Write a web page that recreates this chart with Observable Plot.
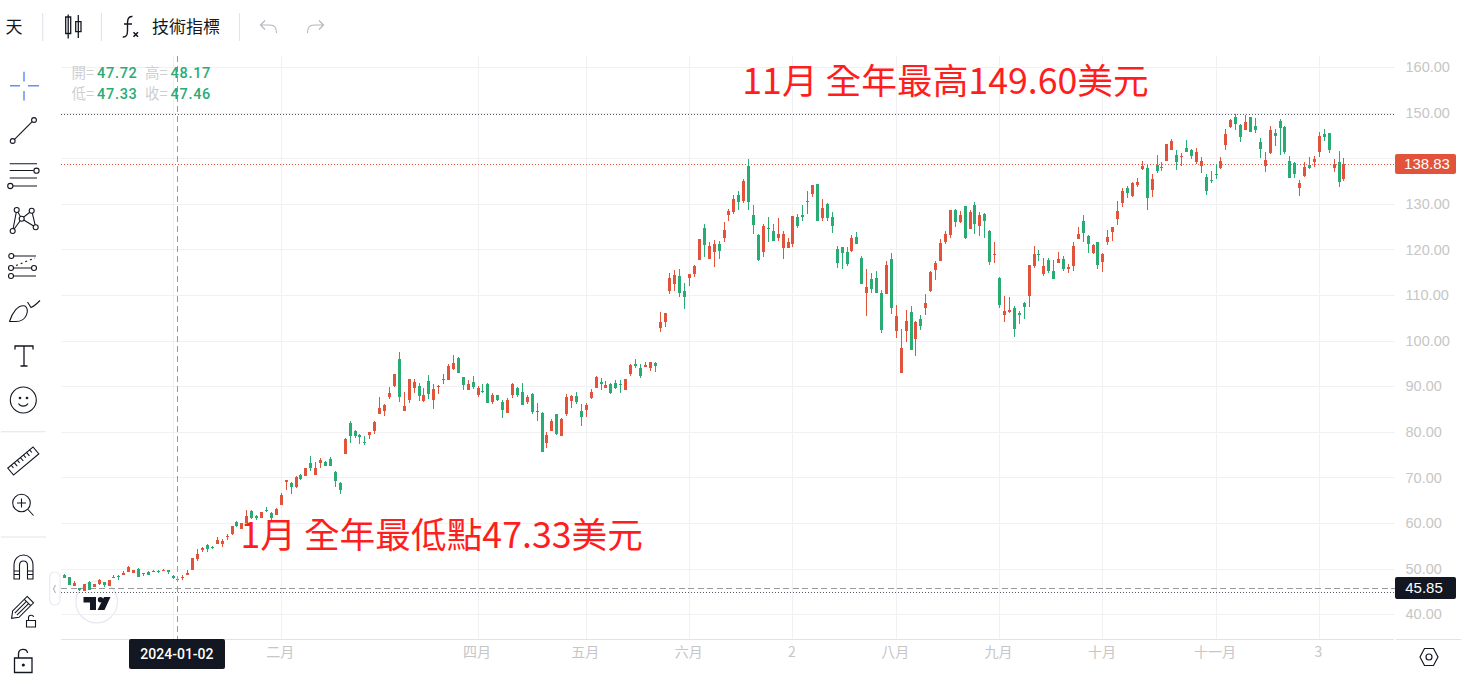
<!DOCTYPE html>
<html lang="zh-Hant">
<head>
<meta charset="utf-8">
<script src="https://cdn.jsdelivr.net/npm/d3@7"></script>
<script src="https://cdn.jsdelivr.net/npm/@observablehq/plot@0.6"></script>
<style>
html,body{margin:0;padding:0;background:#fff;overflow:hidden}
#page{position:relative;width:1461px;height:680px;font-family:"Noto Sans CJK TC","Noto Sans",sans-serif;overflow:hidden}
#chart,#chrome,#logo{position:absolute;left:0;top:0}
#chrome,#logo{pointer-events:none}
.tb{position:absolute;color:#131722;font-size:17px;line-height:20px;white-space:nowrap}
.ro{position:absolute;font-size:14.5px;line-height:18px;white-space:nowrap;color:#cfcfcf}
.ro b{font:500 14.5px "Roboto",sans-serif;color:#2aab73;letter-spacing:.7px;margin-left:3px}
.tag{position:absolute;color:#fff;font-family:"Liberation Sans",Arial,sans-serif;font-size:15px;text-align:center;border-radius:2px;box-sizing:border-box}
</style>
</head>
<body>
<div id="page">
<svg id="logo" width="1461" height="680" fill="none">
  <circle cx="96.7" cy="602" r="20.8" fill="#fff" stroke="#e6e8f0" stroke-width="1.2"/>
  <path d="M83.5 597H96V610H90V602.5H83.5ZM104 597H110.5L104.5 610H97.5Z" fill="#131722"/><circle cx="100.5" cy="599.8" r="2.7" fill="#131722"/>
</svg>
<div id="chart"></div>
<svg id="chrome" width="1461" height="680" fill="none" stroke="#131722" stroke-width="1.1">
  <!-- top toolbar -->
  <g stroke="#e0e3eb"><path d="M42.7 13V41M101.5 13V41M239.5 13V41"/><path d="M61 639.5H1394M1396 639.5H1461"/><path d="M1 431.7H46M1 537H46"/></g>
  <path d="M68.2 14.5V38.5M65.7 17H70.7V33.5H65.7ZM78.3 15V38M75.7 21.7H81V31.7H75.7Z" stroke-width="1.3"/>
  <path d="M132.5 16.5C128 16 127.7 20 127.5 22.5V31C127.5 35 126 37.5 122.7 37M124 24H132" stroke-width="1.4"/>
  <path d="M133.5 32.2L138 36.7M138 32.2L133.5 36.7" stroke-width="1.6"/>
  <g stroke="#b2b5be"><path d="M265 20.5L260.5 25L265 29.5M261 25H270C274 25 276.5 28 276.5 33"/><path d="M319 20.5L323.5 25L319 29.5M323 25H314C310 25 307.5 28 307.5 33"/></g>
  <!-- left toolbar -->
  <path d="M24 71.7V81.5M24 91V100.5M10 85.7H20M28 85.7H39" stroke="#5f92f7" stroke-width="1.5"/>
  <path d="M14.5 139.3L32.2 121.7"/><circle cx="12.7" cy="141" r="2.4"/><circle cx="34" cy="120" r="2.4"/>
  <path d="M9.7 163.7H37M9.7 170.5H33.5M9.7 178H37M13 186H37"/><circle cx="36.5" cy="170.7" r="2.6"/><circle cx="10.3" cy="186" r="2.6"/>
  <path d="M12.7 231L16.7 210L21.7 218.7L31.7 210.7L35.7 227.3L21.7 218.7L12.7 231"/>
  <g fill="#fff"><circle cx="16.7" cy="210" r="2.5"/><circle cx="31.7" cy="210.7" r="2.5"/><circle cx="21.7" cy="218.7" r="2.5"/><circle cx="35.7" cy="227.3" r="2.5"/><circle cx="12.7" cy="231" r="2.5"/></g>
  <path d="M14 256H36M13.5 268H31.5M13.5 276H36"/><path d="M16 265.5L35 258" stroke-dasharray="2 3"/>
  <circle cx="11.3" cy="256" r="2.5"/><circle cx="11" cy="268" r="2.5"/><circle cx="34" cy="268" r="2.5"/><circle cx="11" cy="276" r="2.5"/>
  <path d="M9.5 321.5C12 313 18 304 25 306C30 309 27 321.5 16 321.5H9M27.5 302L31 307.5C34 306.5 37 303.5 40 300.5"/>
  <path d="M15 349.5V346H33V349.5M24 346V366M20.5 366H27.5" stroke-width="1.3"/>
  <circle cx="23.3" cy="400" r="13"/><circle cx="20" cy="398" r=".8"/><circle cx="27" cy="398" r=".8"/><path d="M18.5 403.5C20.5 407 26 407 28 403.5"/>
  <g transform="translate(23.3 461) rotate(-40)"><rect x="-16.5" y="-4.5" width="33" height="9"/><path d="M-12 -4.5V-1M-8 -4.5V0M-4 -4.5V-1M0 -4.5V0M4 -4.5V-1M8 -4.5V0M12 -4.5V-1"/></g>
  <circle cx="21.5" cy="503" r="8.8"/><path d="M21.5 498.5V507.5M17 503H26M28 509.5L33.5 515.5"/>
  <path d="M14 571V565.5C14 551.5 33 551.5 33 565.5V571M19.5 571V565.5C19.5 559.5 27.5 559.5 27.5 565.5V571M14 571H19.5V579H14ZM27.5 571H33V579H27.5Z M14 574.5H19.5M27.5 574.5H33"/>
  <g transform="translate(21.5 608.5) rotate(45)"><path d="M-4.5 -12.5H4.5V8L0 14L-4.5 8ZM-4.5 -8.5H4.5M-1.5 -8.5V8M1.5 -8.5V8"/></g>
  <path d="M26.5 620.5H35.5V627H26.5ZM28.5 620.5V617.5C28.5 614.5 33.5 614.5 33.5 617" />
  <path d="M14.5 658H32V672.5H14.5ZM18.5 658V654C18.5 648 27 648 27.5 653" stroke-width="1.3"/><circle cx="23.3" cy="665" r="1" fill="#131722"/>
  <rect x="49.7" y="572" width="10.3" height="33" rx="5" stroke="#e8e9ef" fill="#fff"/><path d="M55.5 585L53.5 589L55.5 593" stroke="#b2b5be"/>
  <!-- settings hex -->
  <path d="M1424.5 648.5H1433.5L1438 657L1433.5 665.5H1424.5L1420 657Z" stroke-width="1.2"/><circle cx="1429" cy="657" r="3" stroke-width="1.2"/>
</svg>
<div class="tb" style="left:5.5px;top:16px">天</div>
<div class="tb" style="left:152px;top:16px">技術指標</div>
<div class="ro" style="left:71.5px;top:63px">開=<b>47.72</b></div>
<div class="ro" style="left:145px;top:63px">高=<b>48.17</b></div>
<div class="ro" style="left:71.5px;top:84px">低=<b>47.33</b></div>
<div class="ro" style="left:145px;top:84px">收=<b>47.46</b></div>
</div>
<script>
const open = [
48.5,48.1,46.2,45.8,45.1,47.0,45.9,46.6,47.0,46.2,
48.0,48.4,48.7,49.3,49.0,49.9,48.75,49.25,49.3,49.5,
49.5,49.8,48.4,47.72,48.0,48.7,49.7,52.1,54.2,55.2,
54.75,55.4,55.3,57.0,57.6,60.2,58.7,60.0,62.6,61.5,
61.2,62.9,62.1,61.75,63.95,69.0,68.8,67.9,70.5,70.3,
73.2,70.5,73.2,73.4,74.0,71.2,68.8,75.1,81.9,80.2,
79.3,77.8,79.3,80.2,83.9,84.55,87.6,90.0,95.96,84.55,
87.0,89.6,90.0,86.75,91.1,87.0,89.9,91.4,91.4,93.8,
96.2,92.0,89.2,90.9,88.1,88.95,90.5,86.55,88.1,86.55,
84.1,88.1,89.6,88.7,86.5,88.3,84.3,84.1,77.5,80.2,
83.9,79.1,83.9,86.75,87.85,84.55,84.8,87.4,89.6,90.9,
89.6,90.5,90.7,90.5,89.2,92.7,94.9,94.0,94.2,94.0,
95.1,102.8,104.1,110.9,112.4,114.2,110.9,113.7,114.6,117.7,
124.7,117.9,119.4,121.2,122.5,127.55,128.2,131.9,130.6,138.3,
127.55,123.15,119.4,124.7,124.0,122.5,120.3,120.3,121.2,127.1,
127.55,130.4,132.15,134.3,126.9,130.0,127.1,120.1,120.5,119.4,
119.65,122.7,118.1,110.4,113.5,113.7,110.4,110.2,117.9,102.1,
92.9,102.1,106.3,100.4,104.7,107.15,110.9,115.5,117.45,121.6,
123.2,128.6,126.0,129.5,124.5,129.7,125.1,127.8,124.0,118.8,
113.7,105.6,106.3,107.15,106.05,108.25,109.8,116.4,119.0,114.6,
117.7,115.3,117.0,117.9,115.7,116.4,122.3,126.2,122.9,119.2,
121.6,117.25,121.6,123.8,126.65,130.2,133.5,131.7,134.1,137.6,
137.85,133.0,138.5,138.1,139.4,141.8,140.7,140.3,142.2,141.8,
139.2,138.3,135.9,135.2,136.5,137.85,142.9,146.85,149.0,147.3,
146.2,149.0,147.05,143.55,138.3,141.1,145.5,148.2,146.85,139.4,
138.95,133.5,136.1,138.5,139.2,141.35,145.3,145.5,137.85,139.2,
135.4];
const high = [
48.8,48.1,47.3,45.8,46.7,47.2,46.6,47.7,47.0,47.6,
48.5,48.6,49.5,50.6,49.7,50.05,48.95,49.5,49.6,49.7,
49.85,49.8,48.6,48.17,48.6,49.6,52.3,54.3,54.7,55.4,
55.0,56.9,56.4,57.6,59.3,60.4,60.0,62.8,62.8,61.75,
62.4,63.5,62.5,63.3,66.6,69.35,69.0,70.3,70.7,72.1,
74.7,73.4,74.25,73.6,74.5,71.4,69.0,78.55,82.4,80.4,
79.5,79.1,79.95,82.4,87.6,86.1,89.8,92.7,97.5,88.7,
91.6,91.6,90.7,89.6,92.45,90.5,90.3,92.7,94.9,96.8,
96.4,92.0,91.4,92.2,90.0,90.5,90.7,88.5,88.1,87.0,
87.4,90.7,89.8,90.7,88.1,88.5,86.3,84.3,79.95,82.8,
83.9,83.0,88.3,88.1,88.7,86.1,86.3,89.4,92.2,91.8,
91.1,90.7,91.4,91.4,91.6,94.9,96.0,94.9,95.3,95.3,
95.3,106.3,106.05,114.8,115.5,115.7,112.6,114.6,116.6,122.3,
125.6,121.6,122.1,121.8,126.0,128.9,131.9,132.8,135.4,139.8,
129.7,123.4,125.6,127.1,125.6,126.9,124.0,122.5,127.3,127.8,
129.7,132.8,134.1,134.3,131.05,130.2,128.2,120.75,120.5,120.5,
123.15,123.8,118.55,115.7,114.8,115.25,111.1,117.5,119.2,107.8,
102.55,106.7,107.6,104.3,105.6,110.2,115.3,117.45,122.3,124.0,
128.6,128.9,128.4,129.5,128.6,130.4,128.2,128.0,124.25,121.6,
113.95,109.8,109.6,107.6,106.5,108.5,116.6,120.75,119.9,118.1,
118.1,117.7,119.4,118.55,116.8,121.6,124.9,127.55,123.2,121.2,
121.6,119.2,124.25,124.9,130.6,133.5,133.9,134.8,135.65,139.4,
138.5,136.5,140.7,139.2,143.1,144.2,141.8,141.1,144.0,142.0,
142.2,140.3,136.5,137.2,138.7,140.3,146.4,148.6,149.6,147.5,
149.5,149.0,148.8,144.4,141.35,147.05,146.4,148.6,147.05,140.5,
139.2,135.2,139.2,140.3,140.5,145.75,146.4,145.5,139.8,141.6,
140.05];
const low = [
47.95,46.4,46.2,45.1,45.1,45.2,45.9,46.5,46.0,46.2,
48.0,47.6,48.7,49.3,49.0,48.2,48.45,48.7,49.3,49.0,
49.5,48.8,47.7,47.33,47.6,48.7,49.7,51.7,53.6,53.7,
54.4,55.4,54.8,56.3,57.4,59.1,58.7,60.0,60.8,60.65,
61.2,62.4,60.65,61.75,63.95,67.2,66.4,67.7,69.4,70.3,
71.4,70.5,72.1,72.5,72.5,67.9,66.4,75.1,77.5,78.6,
77.3,77.1,78.4,79.5,83.9,83.5,87.2,89.8,86.5,84.55,
86.3,88.5,86.75,86.5,87.2,85.0,88.3,90.5,91.4,93.55,
92.9,89.2,89.2,89.4,87.6,88.5,86.3,86.1,86.75,83.0,
84.1,87.4,87.6,85.9,86.1,83.9,82.4,75.6,76.45,80.2,
79.3,79.1,83.5,85.2,86.1,81.3,83.25,87.2,89.6,89.2,
89.6,88.3,89.4,88.5,89.2,92.2,94.0,91.8,94.2,93.3,
93.1,101.9,103.0,110.2,110.9,109.6,106.9,112.0,113.9,117.7,
118.3,117.9,116.1,117.9,121.6,126.2,127.8,128.6,130.2,128.6,
123.4,117.5,118.3,121.6,121.8,121.8,117.9,120.3,120.5,124.7,
126.2,127.8,131.5,126.2,126.2,126.2,123.6,115.9,115.7,116.4,
119.4,121.2,112.4,105.4,110.4,110.4,101.7,110.2,105.8,100.6,
92.9,99.7,97.9,96.6,102.3,105.6,110.7,113.3,117.45,121.2,
122.5,124.9,125.8,122.3,124.5,123.4,122.9,122.5,116.6,117.0,
107.15,104.1,106.05,100.8,103.6,104.7,107.4,115.9,117.45,114.2,
114.8,113.5,117.0,115.3,114.8,115.3,122.3,121.6,119.2,119.0,
115.7,115.05,121.0,121.85,125.35,129.3,131.3,131.5,133.7,137.4,
128.65,131.5,136.8,137.2,139.4,141.8,137.4,138.3,141.35,139.8,
138.7,136.8,131.9,134.55,135.4,137.6,141.8,146.6,146.2,143.55,
146.2,145.75,145.5,140.05,137.0,140.9,142.7,140.7,140.9,135.65,
135.65,131.7,135.9,137.6,138.1,140.3,143.8,141.1,137.0,133.7,
135.0];
const close = [
48.0,46.4,46.8,45.3,46.6,45.3,46.6,47.5,46.3,47.5,
48.2,48.3,49.1,50.3,49.7,48.2,48.95,48.7,49.5,49.35,
49.7,49.2,47.95,47.46,48.2,49.1,52.3,53.1,54.4,54.4,
54.6,56.3,56.05,57.2,59.3,59.4,60.0,61.5,61.2,61.0,
62.4,62.7,61.2,63.1,66.1,69.35,68.0,70.1,69.65,72.1,
72.1,72.1,73.8,72.5,72.5,69.2,67.2,78.4,79.08,79.1,
78.85,77.6,79.95,82.15,85.2,85.9,88.5,92.7,87.6,85.65,
91.6,90.9,87.85,88.1,88.3,89.4,90.1,91.6,94.4,95.1,
92.9,90.3,90.5,89.8,89.6,88.7,86.3,88.1,87.0,84.8,
87.0,90.5,88.1,85.9,87.6,84.3,84.55,75.6,79.3,82.4,
79.5,82.8,87.6,87.85,86.55,83.25,85.9,88.7,92.0,90.5,
90.3,88.5,89.6,90.3,91.6,94.65,94.4,92.2,94.65,95.3,
94.4,104.1,106.05,113.7,114.4,110.4,109.6,114.6,116.4,122.3,
121.0,120.75,121.2,119.65,124.25,128.4,131.05,130.4,135.0,130.4,
125.35,117.7,125.1,124.5,121.8,123.4,123.4,121.6,127.3,125.1,
127.1,130.6,134.1,126.2,129.1,126.9,125.1,117.0,119.2,116.8,
122.5,121.2,112.4,111.75,111.3,110.4,102.3,116.6,107.15,105.4,
98.4,104.3,97.9,104.1,103.2,108.25,115.05,117.0,121.4,123.4,
128.6,126.0,127.55,122.5,128.2,125.6,127.55,126.2,117.2,119.0,
107.8,106.5,106.7,102.55,105.7,107.4,116.6,119.0,118.8,116.4,
115.3,113.5,117.9,115.7,116.15,120.75,123.4,123.6,121.2,121.0,
116.6,119.0,122.7,124.9,128.4,132.8,132.4,134.55,134.8,138.3,
131.3,135.4,137.2,137.85,143.1,143.8,139.2,140.5,141.35,140.5,
141.35,139.4,132.8,135.0,136.3,139.4,145.3,148.4,147.5,144.65,
147.9,145.75,146.2,142.0,139.6,146.2,144.9,146.6,141.35,135.65,
136.5,134.55,138.1,137.85,139.8,144.9,144.65,141.8,138.7,134.8,
138.83];

const priceTicks = [40,50,60,70,80,90,100,110,120,130,140,150,160];
const priceLabels = [40,50,60,70,80,90,100,110,120,130,150,160];
const monthGrid = [22,44,84,106,127,148,169,190,211,234,255];
const monthLabelAt = [44,84,106,127,148,169,190,211,234,255];
const monthLabels = ["二月","四月","五月","六月","2","八月","九月","十月","十一月","3"];
const crossIndex = 23;
const crossDate = "2024-01-02";
const crossPrice = 45.85;
const lastPrice = 138.83;
const yearHigh = 149.6;
const yearLowLine = 44.9;
const notes = [
  {i:137.7, v:156.8, text:"11月 全年最高149.60美元"},
  {i:35.7,  v:57.15, text:"1月 全年最低點47.33美元"}
];

const RED = "#e2533b", GREEN = "#2aab73";
const minHalfBody = 0.13;
const candles = open.map((o,i)=>{
  const c=close[i], mid=(o+c)/2, half=Math.max(Math.abs(c-o)/2,minHalfBody);
  return {i, o, h:high[i], l:low[i], c, b1:mid-half, b2:mid+half, color: c>=o ? RED : GREEN};
});
const cjk = '"Noto Sans CJK TC",sans-serif';
const crisp = {shapeRendering:"crispEdges"};

const chart = Plot.plot({
  width:1461, height:680,
  marginTop:56, marginBottom:41, marginLeft:61, marginRight:66,
  style:{background:"transparent", fontFamily:"'Liberation Sans',Arial,sans-serif", overflow:"visible"},
  x:{type:"linear", domain:[-0.67,270.47]},
  y:{type:"linear", domain:[34.56,162.41]},
  marks:[
    Plot.ruleY(priceTicks,{stroke:"#f1f1f3",...crisp}),
    Plot.ruleX(monthGrid,{stroke:"#f1f1f3",...crisp}),
    Plot.ruleY([yearHigh],{stroke:"#555a66",strokeDasharray:"1 2",...crisp}),
    Plot.ruleY([yearLowLine],{stroke:"#555a66",strokeDasharray:"1 2",...crisp}),
    Plot.ruleY([lastPrice],{stroke:RED,strokeDasharray:"1 2",...crisp}),
    Plot.ruleY([crossPrice],{stroke:"#9a9a9a",strokeDasharray:"6 3.5",...crisp}),
    Plot.ruleX(candles,{x:"i",y1:"l",y2:"h",stroke:"color",strokeWidth:1,...crisp}),
    Plot.ruleX(candles,{x:"i",y1:"b1",y2:"b2",stroke:"color",strokeWidth:3,...crisp}),
    Plot.ruleX([crossIndex],{stroke:"#9a9a9a",strokeDasharray:"6 4",dx:-0.5,...crisp}),
    Plot.text(notes,{x:"i",y:"v",text:"text",textAnchor:"start",fill:"#ff1e1e",fontSize:35.7,fontFamily:cjk,lineAnchor:"middle"}),
    Plot.axisY({anchor:"right",ticks:priceLabels,tickSize:0,tickPadding:10,tickFormat:d=>d.toFixed(2),label:null,fontSize:14.5,color:"#c6c6c6"}),
    Plot.axisX({ticks:monthLabelAt,tickSize:0,tickPadding:8,dx:-1,tickFormat:d=>monthLabels[monthLabelAt.indexOf(d)],label:null,fontSize:14,color:"#c6c6c6",fontFamily:cjk})
  ]
});
document.getElementById("chart").appendChild(chart);

// price and date tags follow the chart's own scales
const page = document.getElementById("page");
const yS = chart.scale("y"), xS = chart.scale("x");
function tag(text,bg,left,top,w,h,extra=""){
  const d=document.createElement("div");
  d.className="tag"; d.textContent=text;
  d.style.cssText=`left:${left}px;top:${top}px;width:${w}px;height:${h}px;background:${bg};${extra};line-height:${h}px`;
  page.appendChild(d);
}
tag(lastPrice.toFixed(2),RED,1395,yS.apply(lastPrice)-10,61,20.5,"padding-left:3px");
tag(crossPrice.toFixed(2),"#131722",1395,yS.apply(crossPrice)-11,61,22,"padding-right:3px");
tag(crossDate,"#131722",xS.apply(crossIndex)-48.5,639,96,30,"font-family:Roboto,sans-serif;font-size:14px;font-weight:500");
</script>
</body>
</html>
